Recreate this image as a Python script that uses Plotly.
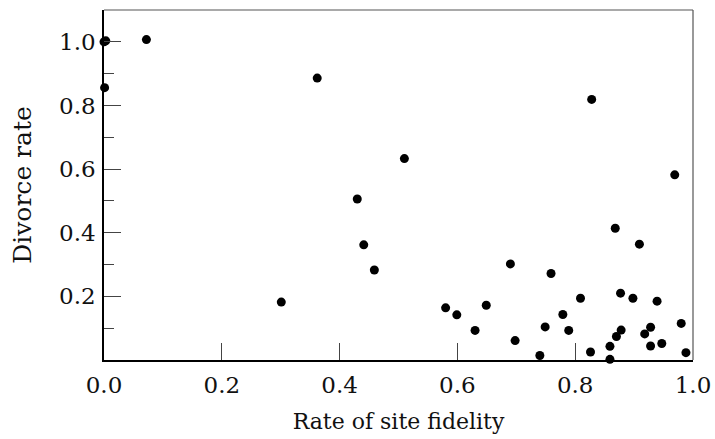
import plotly.graph_objects as go

# Rate of site fidelity (x) vs divorce rate (y)
site_fidelity = [0.000, 0.003, 0.001, 0.072, 0.362, 0.430, 0.441, 0.459, 0.301, 0.510,
                 0.580, 0.599, 0.630, 0.649, 0.690, 0.698, 0.740, 0.749, 0.759, 0.779,
                 0.789, 0.809, 0.826, 0.828, 0.868, 0.859, 0.859, 0.870, 0.878, 0.877,
                 0.909, 0.898, 0.918, 0.928, 0.928, 0.939, 0.947, 0.969, 0.980, 0.988]
divorce_rate = [1.000, 1.003, 0.856, 1.007, 0.886, 0.506, 0.362, 0.283, 0.182, 0.633,
                0.164, 0.142, 0.093, 0.172, 0.302, 0.061, 0.014, 0.104, 0.272, 0.143,
                0.093, 0.194, 0.025, 0.819, 0.414, 0.043, 0.002, 0.074, 0.094, 0.210,
                0.364, 0.194, 0.082, 0.103, 0.044, 0.185, 0.052, 0.582, 0.115, 0.023]

x_ticks = [0.0, 0.2, 0.4, 0.6, 0.8, 1.0]
x_tick_labels = ["0.0", "0.2", "0.4", "0.6", "0.8", "1.0"]
y_ticks = [0.2, 0.4, 0.6, 0.8, 1.0]
y_tick_labels = ["0.2", "0.4", "0.6", "0.8", "1.0"]
y_minor_ticks = [0.1, 0.3, 0.5, 0.7, 0.9]

FONT = "DejaVu Serif"

fig = go.Figure()
fig.add_trace(go.Scatter(
    x=site_fidelity, y=divorce_rate, mode="markers",
    marker=dict(size=9, color="black", line=dict(width=0)),
    cliponaxis=False, showlegend=False,
))

fig.update_layout(
    width=715, height=439,
    margin=dict(l=104, r=22, t=10, b=79),
    paper_bgcolor="white", plot_bgcolor="white",
    font=dict(family=FONT, size=23, color="#111"),
    xaxis=dict(
        range=[0, 1], tickmode="array", tickvals=x_ticks, ticktext=x_tick_labels,
        ticks="inside", ticklen=17, tickwidth=1, tickcolor="#444",
        showline=True, linecolor="black", linewidth=1.5,
        showgrid=False, zeroline=False, automargin=False,
        ticklabelstandoff=4,
        title=dict(text="Rate of site fidelity", font=dict(size=22, family=FONT), standoff=16),
    ),
    yaxis=dict(
        range=[0, 1.1], tickmode="array", tickvals=y_ticks, ticktext=y_tick_labels,
        ticks="inside", ticklen=17, tickwidth=1, tickcolor="#444",
        minor=dict(tickmode="array", tickvals=y_minor_ticks, ticks="inside",
                   ticklen=10, tickwidth=1, tickcolor="#444"),
        showline=True, linecolor="black", linewidth=1.5,
        showgrid=False, zeroline=False, automargin=False,
        ticklabelstandoff=2,
        title=dict(text="Divorce rate", font=dict(size=25, family=FONT), standoff=20),
    ),
    shapes=[
        dict(type="line", xref="paper", yref="paper", x0=0, x1=1, y0=1, y1=1,
             line=dict(color="#555", width=1.2), layer="below"),
        dict(type="line", xref="paper", yref="paper", x0=1, x1=1, y0=0, y1=1,
             line=dict(color="#555", width=1.2), layer="below"),
    ],
)

fig.write_html("out.html")
